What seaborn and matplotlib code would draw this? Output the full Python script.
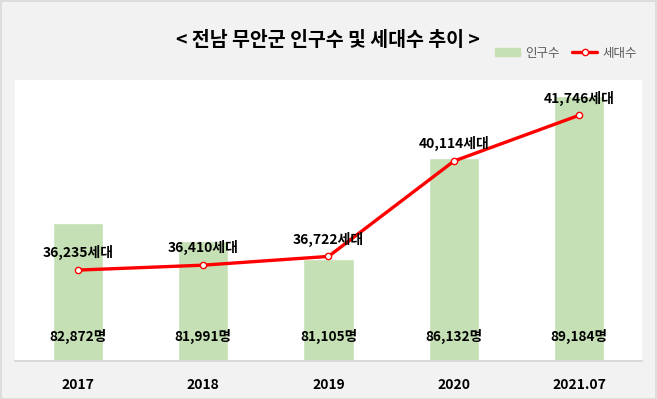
import numpy as np
import pandas as pd
import seaborn as sns
import matplotlib.pyplot as plt
from matplotlib.patches import Rectangle
from matplotlib.lines import Line2D
from matplotlib.patches import Patch

# 데이터
years = ['2017', '2018', '2019', '2020', '2021.07']
population = [82872, 81991, 81105, 86132, 89184]
households = [36235, 36410, 36722, 40114, 41746]

df = pd.DataFrame({'year': years, 'pop': population, 'hh': households})

sns.set_style("white")
plt.rcParams['font.family'] = ['Noto Sans CJK KR', 'DejaVu Sans']
plt.rcParams['text.color'] = 'black'
plt.rcParams['xtick.color'] = 'black'

fig = plt.figure(figsize=(6.57, 3.99), dpi=100, facecolor='#f2f2f2')
fig.patches.append(Rectangle((0.5 / 657, 0.5 / 399), 655.5 / 657, 397.5 / 399,
                             transform=fig.transFigure, fill=False,
                             edgecolor='#d9d9d9', lw=1.2))
ax = fig.add_axes([15 / 657, 38 / 399, 627 / 657, 281 / 399])
ax.set_facecolor('white')

# 인구수 막대
sns.barplot(data=df, x='year', y='pop', color='#c5e0b4', width=0.4,
            saturation=1, ax=ax)
ax.set_ylim(76000, 90000)
ax.set_xlim(-0.5, 4.5)

# 세대수 선
ax2 = ax.twinx()
sns.pointplot(data=df, x='year', y='hh', color='#ff0000', ax=ax2,
              markers='o', markersize=4.5, linewidth=2.4,
              markerfacecolor='white', markeredgecolor='#ff0000',
              markeredgewidth=1.0)
ax2.set_ylim(33000, 43000)
ax2.set_xlim(-0.5, 4.5)

# 라벨
for i, (p, h) in enumerate(zip(population, households)):
    ax.annotate(f'{p:,}명', (i, 76000), xytext=(0, 12), textcoords='offset points',
                ha='center', va='bottom', fontsize=9.8, fontweight='bold', color='black')
    ax2.annotate(f'{h:,}세대', (i, h), xytext=(0, 7), textcoords='offset points',
                 ha='center', va='bottom', fontsize=10, fontweight='bold', color='black')

for a in (ax, ax2):
    a.set_xlabel('')
    a.set_ylabel('')
    a.set_yticks([])
    for s in ('top', 'left', 'right'):
        a.spines[s].set_visible(False)
    a.spines['bottom'].set_color('#d9d9d9')
    a.spines['bottom'].set_linewidth(1.2)

ax.tick_params(axis='x', length=0, pad=12, colors='black')
for t in ax.get_xticklabels():
    t.set_fontweight('bold')
    t.set_fontsize(10)

# 제목
fig.text(328 / 657, 1 - 40 / 399, '< 전남 무안군 인구수 및 세대수 추이 >',
         ha='center', va='center', fontsize=14, fontweight='bold', color='black')

# 범례
handles = [Patch(color='#c5e0b4', label='인구수'),
           Line2D([], [], color='#ff0000', lw=2.4, marker='o', markersize=4.5,
                  markerfacecolor='white', markeredgecolor='#ff0000', label='세대수')]
fig.legend(handles=handles, loc='center', bbox_to_anchor=(566 / 657, 1 - 53 / 399),
           ncol=2, frameon=False, fontsize=9, labelcolor='#595959',
           handlelength=2.0, handleheight=0.6, columnspacing=1.0, handletextpad=0.4)

fig.savefig('out.png', dpi=100, facecolor=fig.get_facecolor())
